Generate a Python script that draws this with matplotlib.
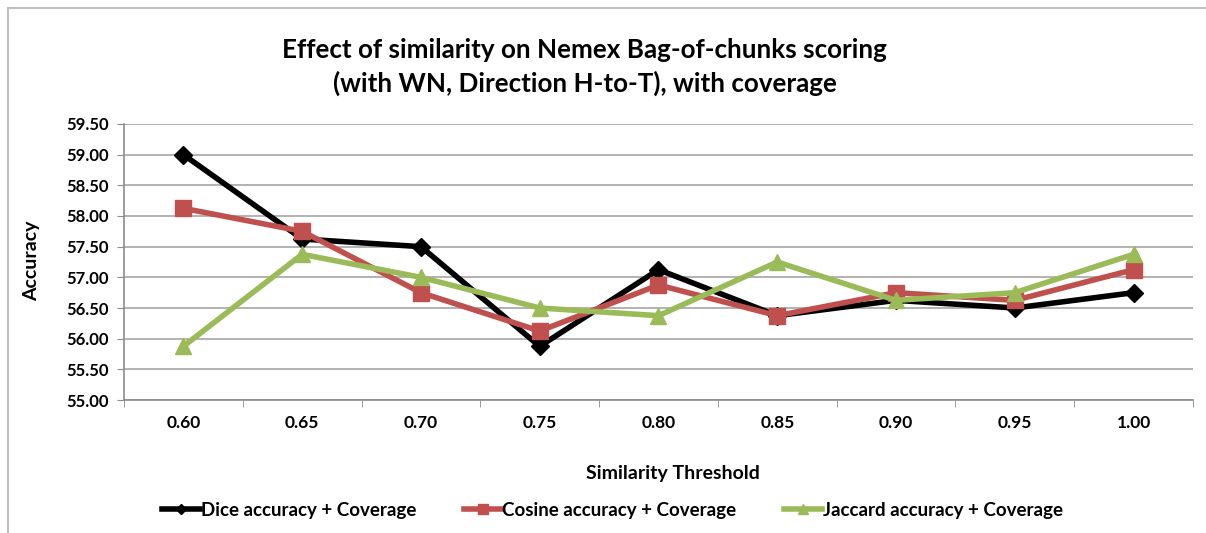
from matplotlib import pyplot as plt
from matplotlib.lines import Line2D
import numpy as np

thresholds = ["0.60", "0.65", "0.70", "0.75", "0.80", "0.85", "0.90", "0.95", "1.00"]
dice = [59.0, 57.625, 57.5, 55.875, 57.125, 56.375, 56.625, 56.5, 56.75]
cosine = [58.125, 57.75, 56.75, 56.125, 56.875, 56.375, 56.75, 56.625, 57.125]
jaccard = [55.875, 57.375, 57.0, 56.5, 56.375, 57.25, 56.625, 56.75, 57.375]
yticks = [55.0, 55.5, 56.0, 56.5, 57.0, 57.5, 58.0, 58.5, 59.0, 59.5]

plt.rcParams['font.family'] = ['Lato', 'DejaVu Sans']
plt.rcParams['font.weight'] = 'bold'

fig = plt.figure(figsize=(12.06, 5.33), dpi=100)
ax = fig.add_axes([0.1028, 0.2495, 0.8864, 0.5179])

x = np.arange(len(thresholds))
ax.plot(x, dice, color="black", lw=4, marker="D", ms=9, label="Dice accuracy + Coverage", zorder=3)
ax.plot(x, cosine, color="#C0504D", lw=4, marker="s", ms=11, label="Cosine accuracy + Coverage", zorder=4)
ax.plot(x, jaccard, color="#9BBB59", lw=4, marker="^", ms=12, label="Jaccard accuracy + Coverage", zorder=5)

ax.set_xlim(-0.5, len(thresholds) - 0.5)
ax.set_ylim(55.0, 59.5)
ax.set_yticks(yticks)
ax.set_yticklabels(["%.2f" % v for v in yticks], fontsize=12, fontweight="bold")
ax.set_xticks(x)
ax.set_xticklabels(thresholds, fontsize=12.5, fontweight="bold")
ax.set_xticks(np.arange(-0.5, len(thresholds)), minor=True)
ax.tick_params(axis="x", which="major", length=0, pad=11)
ax.tick_params(axis="x", which="minor", length=5, color="#8C8C8C", direction="out")
ax.tick_params(axis="y", length=5, color="#8C8C8C", pad=6)
ax.grid(axis="y", color="#A6A6A6", lw=1.2)
ax.set_axisbelow(True)
for s in ["top", "right"]:
    ax.spines[s].set_visible(False)
for s in ["left", "bottom"]:
    ax.spines[s].set_color("#8C8C8C")
    ax.spines[s].set_linewidth(1.2)

fig.text(0.485, 0.875, "Effect of similarity on Nemex Bag-of-chunks scoring\n(with WN, Direction H-to-T), with coverage",
         ha="center", va="center", fontsize=18.7, fontweight="bold", linespacing=1.4)
fig.text(0.026, 0.51, "Accuracy", rotation=90, ha="center", va="center", fontsize=14, fontweight="bold")
fig.text(0.558, 0.111, "Similarity Threshold", ha="center", va="center", fontsize=14, fontweight="bold")

leg = fig.legend(loc="center", bbox_to_anchor=(0.508, 0.043), ncol=3, frameon=False,
                 fontsize=13.5, handlelength=2.0, handletextpad=0.05, columnspacing=2.55,
                 markerscale=0.6)

# chart border (left and top edges visible)
fig.add_artist(Line2D([0.0066, 0.0066], [0, 0.985], transform=fig.transFigure, color="#BFBFBF", lw=1.5))
fig.add_artist(Line2D([0.0066, 1.0], [0.985, 0.985], transform=fig.transFigure, color="#BFBFBF", lw=1.5))

plt.savefig("out.png", dpi=100)
plt.close()
